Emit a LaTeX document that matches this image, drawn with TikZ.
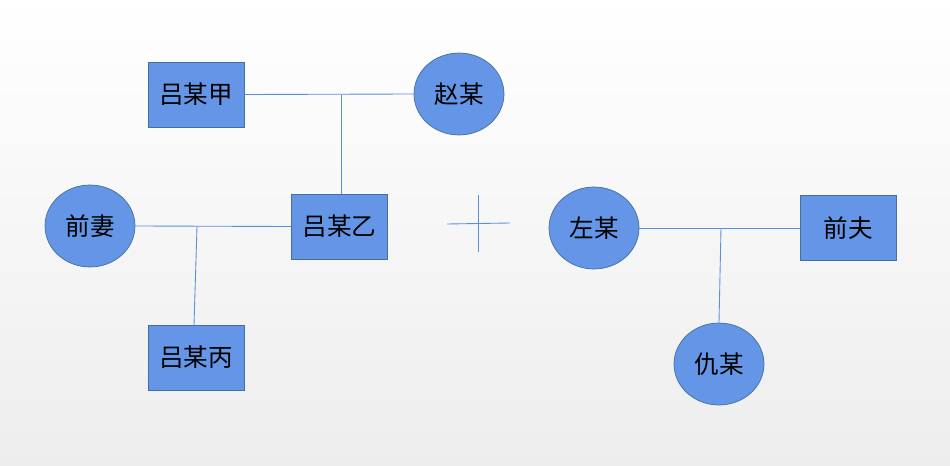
\documentclass[tikz,border=0pt]{standalone}
\usepackage{fontspec}
\newfontfamily\cjk{Noto Sans CJK SC}
\usetikzlibrary{shapes.geometric}
\definecolor{fillb}{HTML}{6495E6}
\definecolor{edgeb}{HTML}{41719C}
\definecolor{lineb}{HTML}{5B8FD9}
\begin{document}
\begin{tikzpicture}[x=0.02cm,y=-0.02cm,
  lbl/.style={font=\cjk\fontsize{14}{16}\selectfont,text=black},
  rbox/.style={lbl,draw=edgeb,fill=fillb,minimum width=1.92cm,minimum height=1.3cm,inner sep=0pt,line width=0.4pt},
  oval/.style={lbl,ellipse,draw=edgeb,fill=fillb,minimum width=1.8cm,minimum height=1.64cm,inner sep=0pt,line width=0.4pt},
  conn/.style={draw=lineb,line width=0.5pt}]
\shade[top color=white,bottom color=black!7] (0,0) rectangle (950,466);
\useasboundingbox (0,0) rectangle (950,466);
\node[rbox] (jia) at (196,94.5) {吕某甲};
\node[oval] (zhao) at (459,94) {赵某};
\node[oval] (qq) at (90,226) {前妻};
\node[rbox] (yi) at (339.5,226.5) {吕某乙};
\node[rbox] (bing) at (196,357.5) {吕某丙};
\node[oval] (zuo) at (594,228) {左某};
\node[rbox] (qf) at (848.5,228) {前夫};
\node[oval] (qiu) at (719,364) {仇某};
\coordinate (m1) at (341,95.5);
\coordinate (m2) at (197,226.5);
\coordinate (m3) at (721,228);
\coordinate (c1) at (447,224);
\coordinate (c2) at (510,223);
\coordinate (c3) at (478,195);
\coordinate (c4) at (478,252);
\draw[conn] (jia.east) -- (zhao.west);
\draw[conn] (m1) -- (yi.north -| m1);
\draw[conn] (qq.east) -- (yi.west);
\draw[conn] (m2) -- (194,325);
\draw[conn] (zuo.east) -- (qf.west);
\draw[conn] (m3) -- (qiu.north);
\draw[conn] (c1) -- (c2);
\draw[conn] (c3) -- (c4);
\end{tikzpicture}
\end{document}
